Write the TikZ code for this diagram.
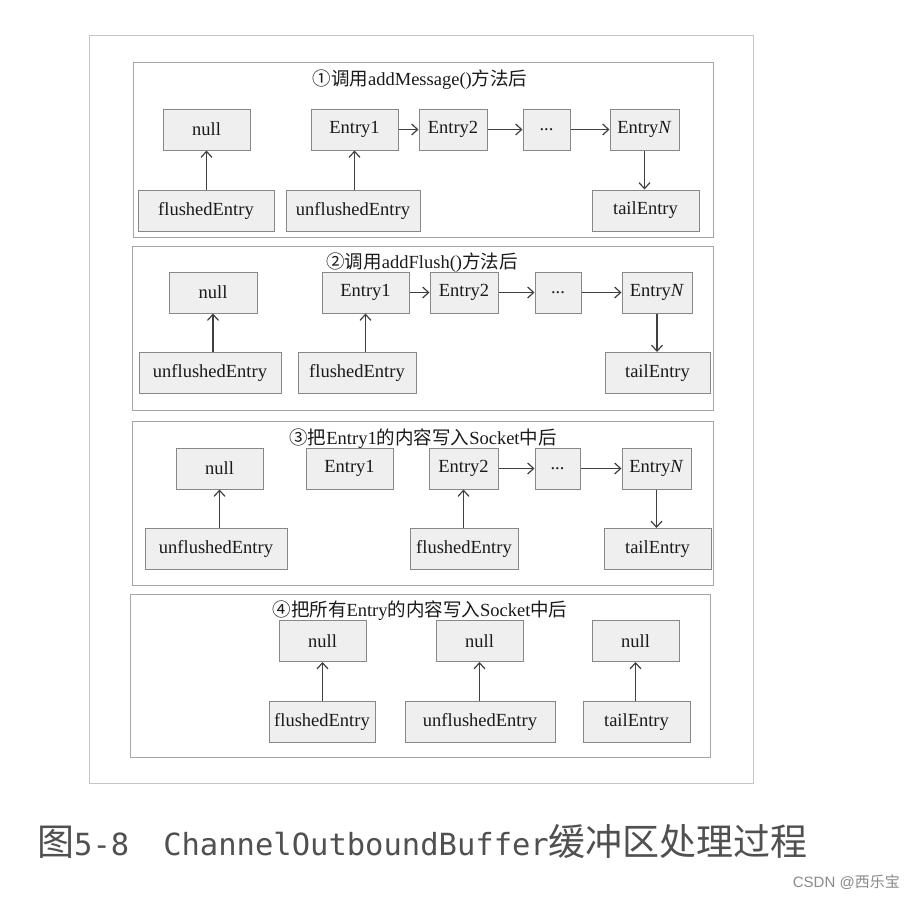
\documentclass[tikz,border=0pt]{standalone}
\usepackage{fontspec}
\setmainfont{Liberation Serif}
\newfontfamily\cjk{Noto Sans CJK SC}
\newfontfamily\capmono{DejaVu Sans Mono}
\newfontfamily\wmfont{Liberation Sans}
\usetikzlibrary{arrows.meta}
\definecolor{boxline}{HTML}{888888}
\definecolor{boxfill}{HTML}{EFEFEF}
\definecolor{panelline}{HTML}{A6A6A6}
\definecolor{outerline}{HTML}{C4C4C4}
\definecolor{arrcol}{HTML}{404040}
\definecolor{txt}{HTML}{1A1A1A}
\definecolor{capcol}{HTML}{505050}
\definecolor{wmcol}{HTML}{8A8A8A}
\tikzset{
  box/.style={draw=boxline, fill=boxfill, line width=1pt, minimum height=41pt,
    inner sep=0pt, font=\fontsize{18.5}{20}\selectfont, text=txt},
  panel/.style={draw=panelline, line width=1pt},
  arr/.style={draw=arrcol, line width=1.2pt, -{Straight Barb[length=6pt,width=11pt]}},
  ptitle/.style={font=\fontsize{18.5}{21}\selectfont, text=txt, inner sep=0pt},
}
\begin{document}
\begin{tikzpicture}[x=1pt,y=-1pt]
\useasboundingbox[fill=white] (0,0) rectangle (916,898);
% outer frame
\draw[draw=outerline, line width=1pt] (89,35) rectangle (753,783);
% panels
\draw[panel] (133,62) rectangle (713,237);
\draw[panel] (132,246) rectangle (713,410);
\draw[panel] (132,421) rectangle (713,585);
\draw[panel] (130,594) rectangle (710,757);

% ---------- panel 1
\node[ptitle] (t1) at (420,80) {{\cjk ①调用}addMessage(){\cjk 方法后}};
\node[box, minimum width=87pt]  (an)  at (206.5,129.5) {null};
\node[box, minimum width=87pt]  (ae1) at (354.5,129.5) {Entry1};
\node[box, minimum width=68pt]  (ae2) at (453,129.5) {Entry2};
\node[box, minimum width=47pt]  (aed) at (546.5,129.5) {...};
\node[box, minimum width=69pt]  (aeN) at (644.5,129.5) {Entry\textit{N}};
\node[box, minimum width=136pt] (af)  at (206,210.5) {flushedEntry};
\node[box, minimum width=134pt] (au)  at (353,210.5) {unflushedEntry};
\node[box, minimum width=107pt] (at)  at (645.5,210.5) {tailEntry};
\draw[arr] (af.north -| an) -- (an.south);
\draw[arr] (au.north -| ae1) -- (ae1.south);
\draw[arr] (ae1) -- (ae2);
\draw[arr] (ae2) -- (aed);
\draw[arr] (aed) -- (aeN);
\draw[arr] (aeN.south) -- (at.north -| aeN);

% ---------- panel 2
\node[ptitle] (t2) at (422,263) {{\cjk ②调用}addFlush(){\cjk 方法后}};
\node[box, minimum width=88pt]  (bn)  at (213,292.5) {null};
\node[box, minimum width=87pt]  (be1) at (365.5,292.5) {Entry1};
\node[box, minimum width=68pt]  (be2) at (464,292.5) {Entry2};
\node[box, minimum width=46pt]  (bed) at (558,292.5) {...};
\node[box, minimum width=70pt]  (beN) at (657,292.5) {Entry\textit{N}};
\node[box, minimum width=142pt] (bu)  at (210,373) {unflushedEntry};
\node[box, minimum width=118pt] (bf)  at (357,373) {flushedEntry};
\node[box, minimum width=105pt] (bt)  at (657.5,373) {tailEntry};
\draw[arr] (bu.north -| bn) -- (bn.south);
\draw[arr] (bf.north -| be1) -- (be1.south);
\draw[arr] (be1) -- (be2);
\draw[arr] (be2) -- (bed);
\draw[arr] (bed) -- (beN);
\draw[arr] (beN.south) -- (bt.north -| beN);

% ---------- panel 3
\node[ptitle] (t3) at (423,439) {{\cjk ③把}Entry1{\cjk 的内容写入}Socket{\cjk 中后}};
\node[box, minimum width=87pt]  (cn)  at (219.5,468.5) {null};
\node[box, minimum width=87pt]  (ce1) at (349.5,468.5) {Entry1};
\node[box, minimum width=69pt]  (ce2) at (463.5,468.5) {Entry2};
\node[box, minimum width=45pt]  (ced) at (557.5,468.5) {...};
\node[box, minimum width=69pt]  (ceN) at (656.5,468.5) {Entry\textit{N}};
\node[box, minimum width=142pt] (cu)  at (216,549) {unflushedEntry};
\node[box, minimum width=108pt] (cf)  at (464,549) {flushedEntry};
\node[box, minimum width=107pt] (ct)  at (657.5,549) {tailEntry};
\draw[arr] (cu.north -| cn) -- (cn.south);
\draw[arr] (cf.north -| ce2) -- (ce2.south);
\draw[arr] (ce2) -- (ced);
\draw[arr] (ced) -- (ceN);
\draw[arr] (ceN.south) -- (ct.north -| ceN);

% ---------- panel 4
\node[ptitle] (t4) at (420,610.5) {{\cjk ④把所有}Entry{\cjk 的内容写入}Socket{\cjk 中后}};
\node[box, minimum width=87pt]  (dn1) at (322.5,641) {null};
\node[box, minimum width=87pt]  (dn2) at (479.5,641) {null};
\node[box, minimum width=87pt]  (dn3) at (635.5,641) {null};
\node[box, minimum width=106pt] (df)  at (322,722) {flushedEntry};
\node[box, minimum width=150pt] (du)  at (480,722) {unflushedEntry};
\node[box, minimum width=107pt] (dt)  at (636.5,722) {tailEntry};
\draw[arr] (df.north -| dn1) -- (dn1.south);
\draw[arr] (du.north -| dn2) -- (dn2.south);
\draw[arr] (dt.north -| dn3) -- (dn3.south);

% ---------- caption
\node[anchor=west, inner sep=0pt, text=capcol] (cap) at (37,842)
  {{\cjk\fontsize{37}{40}\selectfont 图}{\capmono\fontsize{30.5}{36}\selectfont 5-8}\hspace{34pt}{\capmono\fontsize{30.5}{36}\selectfont ChannelOutboundBuffer}{\cjk\fontsize{37}{40}\selectfont 缓冲区处理过程}};
\node[anchor=east, inner sep=0pt, text=wmcol, font=\wmfont\fontsize{15}{17}\selectfont] (wm) at (900,882)
  {CSDN @{\cjk 西乐宝}};
\end{tikzpicture}
\end{document}
